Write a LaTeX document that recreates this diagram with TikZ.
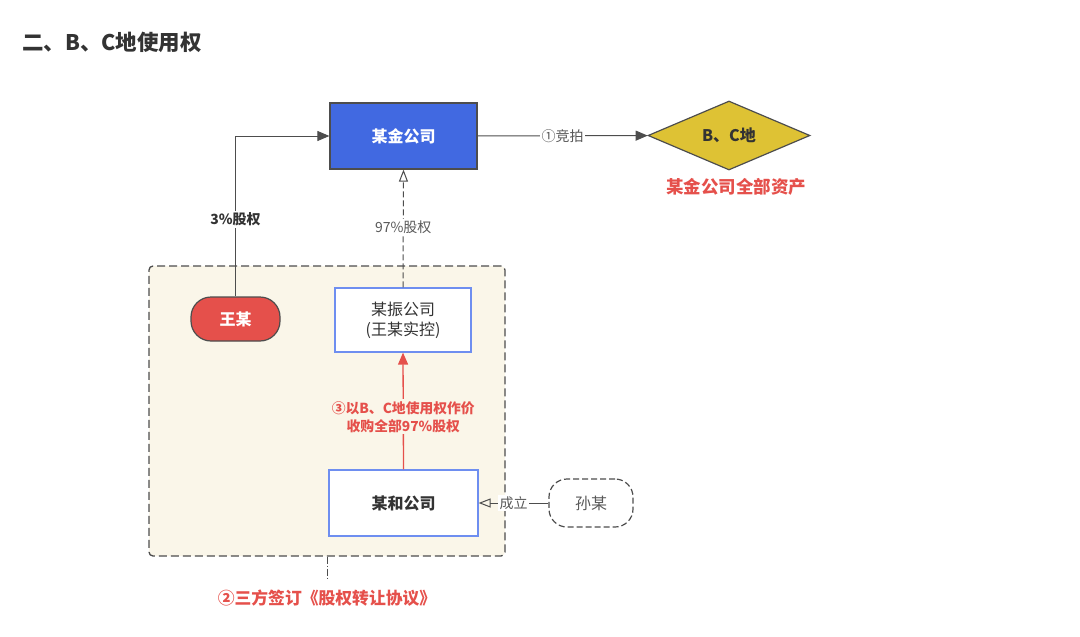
\documentclass[tikz,border=0pt]{standalone}
\usepackage{fontspec}
\usepackage{xcolor}
\usetikzlibrary{shapes.geometric,arrows.meta}
\setmainfont{Noto Sans CJK SC}
\definecolor{CTitle}{HTML}{333333}
\definecolor{CLine}{HTML}{4D4D4D}
\definecolor{CGrayText}{HTML}{595959}
\definecolor{CBlue}{HTML}{4169E1}
\definecolor{CBlueEdge}{HTML}{6E8EF0}
\definecolor{CGold}{HTML}{DEC234}
\definecolor{CRed}{HTML}{E5504B}
\definecolor{CCream}{HTML}{FAF6E9}

\begin{document}
\begin{tikzpicture}[inner sep=0pt,
  bigfont/.style={font=\fontsize{16}{20}\selectfont},
  boldfont/.style={font=\fontsize{16}{20}\selectfont\bfseries},
  smallfont/.style={font=\fontsize{14}{17}\selectfont},
  companybox/.style={shape=rectangle, draw=CBlueEdge, line width=1.2pt, fill=white, bigfont, text=CTitle, align=center},
  conn/.style={draw=CLine, line width=1.0pt},
  openhead/.style={-{Triangle[open,length=12pt,width=9pt]}},
  fullhead/.style={-{Triangle[length=12pt,width=10pt]}},
  edgelabel/.style={fill=white, smallfont, inner sep=1.5pt}]
\useasboundingbox (0pt,0pt) rectangle (1080pt,-637pt);

\node (title) [at={(22pt,-42pt)}, anchor=west, text=CTitle, font=\fontsize{21.5}{25}\selectfont\bfseries] {二、B、C地使用权};

% group of the three parties
\node (grp) [at={(327pt,-411pt)}, minimum width=356pt, minimum height=290pt, fill=CCream, draw=CLine, line width=1.3pt, dash pattern=on 8pt off 4pt, rounded corners=4pt] {};

\node (mujin) [at={(403.5pt,-136pt)}, minimum width=147pt, minimum height=66pt, fill=CBlue, draw=CLine, line width=1.2pt, text=white, boldfont] {某金公司};
\node (land) [at={(729pt,-135.5pt)}, shape=diamond, minimum width=162pt, minimum height=69pt, fill=CGold, draw=CLine, line width=1.2pt, text=CTitle, boldfont] {B、C地};
\node (assets) [at={(736pt,-187pt)}, text=CRed, font=\fontsize{17.5}{21}\selectfont\bfseries] {某金公司全部资产};

\node (wang) [at={(235.5pt,-319pt)}, minimum width=89pt, minimum height=44pt, rounded corners=20pt, fill=CRed, draw=CLine, line width=1.2pt, text=white, boldfont] {王某};
\node (muzhen) [at={(403pt,-320pt)}, companybox, minimum width=136pt, minimum height=64pt] {某振公司\\(王某实控)};
\node (muhe) [at={(403.5pt,-503pt)}, companybox, minimum width=149pt, minimum height=66pt, boldfont] {某和公司};
\node (sun) [at={(591pt,-503pt)}, minimum width=84pt, minimum height=48pt, rounded corners=18pt, draw=CLine, line width=1.2pt, dash pattern=on 6pt off 3pt, bigfont, text=CGrayText] {孙某};

\coordinate (bend) at (235.5pt,-136pt);
\coordinate (sign) at (327pt,-580pt);
\node (agree) [at={(327pt,-598pt)}, text=CRed, font=\fontsize{16.8}{21}\selectfont\bfseries] {②三方签订《股权转让协议》};

\path [conn,fullhead] (mujin) -- node[edgelabel, text=CGrayText] {①竞拍} (land);
\path [conn,fullhead] (wang.north) -- node[edgelabel, text=CTitle, font=\fontsize{14}{17}\selectfont\bfseries, pos=0.48] {3\%股权} (bend) -- (mujin.west);
\path [conn,openhead,dash pattern=on 6pt off 3pt] (muzhen.north) -- node[edgelabel, text=CGrayText, pos=0.51] {97\%股权} (mujin.south);
\path [draw=CRed, line width=1.3pt, -{Triangle[length=12pt,width=10pt]}] (muhe.north) -- node[fill=CCream, inner sep=2pt, text=CRed, align=center, font=\fontsize{13.8}{18}\selectfont\bfseries, pos=0.45] {③以B、C地使用权作价\\收购全部97\%股权} (muzhen.south);
\path [conn,openhead] (sun.west) -- node[edgelabel, text=CGrayText] {成立} (muhe.east);
\path [conn,dash pattern=on 7pt off 2pt on 1pt off 2pt] (grp.south) -- (sign);
\end{tikzpicture}
\end{document}
